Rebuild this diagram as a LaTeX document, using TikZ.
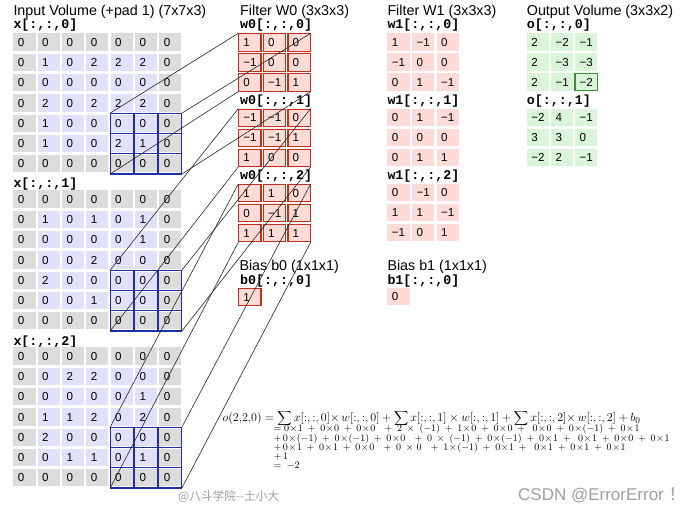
\documentclass[tikz,border=0pt]{standalone}
\usepackage{fontspec}
\newfontfamily\sansf{Liberation Sans}
\setmonofont{Liberation Mono}
\newfontfamily\cjkf{Noto Sans CJK SC}
\usetikzlibrary{calc}
\definecolor{padgray}{HTML}{DCDCDC}
\definecolor{inblue}{HTML}{E1E1FC}
\definecolor{hiblue}{HTML}{1E2FA8}
\definecolor{redfill}{HTML}{FDDCD8}
\definecolor{redline}{HTML}{C4301C}
\definecolor{greenfill}{HTML}{DBF5DB}
\definecolor{greenline}{HTML}{2F9A2F}
\definecolor{wmgray}{HTML}{A0A0A0}
\newcommand\tightlines{\lineskiplimit=-30pt\relax\lineskip=0pt\relax\medmuskip=8.6mu\relax}
\newcommand\tx{{\mskip1mu\times\mskip1mu}}

\newcommand\ingrid[2]{%
 \foreach \row [count=\r from 0] in {#2} {%
  \foreach \v [count=\c from 0] in \row {%
   \pgfmathtruncatemacro\pad{(\r==0)||(\r==6)||(\c==0)||(\c==6)}%
   \ifnum\pad=1 \def\cf{padgray}\else\def\cf{inblue}\fi
   \node[cell, fill=\cf] (x#1-\r-\c) at ({13.3+24.33*\c},{33.3+157*#1+20.3*\r}) {\v};
  }}%
 \foreach \r in {4,5,6}{\foreach \c in {4,5,6}{%
   \draw[hibox] ($(x#1-\r-\c.north west)+(-0.4,-1.4)$) rectangle ($(x#1-\r-\c.south east)+(0.4,1.6)$);}}%
 \node[blk, minimum width=71.7pt, minimum height=60.9pt] (xb#1) at (110.2,{113.1+157*#1}) {};
}
\newcommand\smgrid[6]{%
 \foreach \row [count=\r from 0] in {#6} {%
  \foreach \v [count=\c from 0] in \row {%
   \node[#5] (#1-\r-\c) at ({#2+#4*\c},{#3+20*\r}) {\v};
  }}}

\begin{document}
\begin{tikzpicture}[x=1pt,y=-1pt,
 cell/.style={anchor=north west, inner xsep=4.6pt, inner ysep=0pt, text width=13pt, align=left,
   minimum height=17.3pt, text height=8.3pt, text depth=0pt, outer sep=0pt,
   font=\sansf\fontsize{11.6}{12}\selectfont},
 wcell/.style={cell, fill=redfill, draw=redline, line width=1.1pt},
 vcell/.style={cell, fill=redfill},
 ocell/.style={cell, fill=greenfill},
 hibox/.style={draw=hiblue, line width=1.2pt},
 blk/.style={anchor=north west, inner sep=0pt, outer sep=0pt},
 ttl/.style={anchor=west, inner sep=0pt, font=\sansf\fontsize{14.3}{15}\selectfont},
 lbl/.style={anchor=west, inner sep=0pt, font=\ttfamily\bfseries\fontsize{13.3}{14}\selectfont},
 conn/.style={draw=black!85, line width=0.6pt},
]
\path[use as bounding box, fill=white] (0,0) rectangle (693,512);

% ---- titles ----
\node[ttl] (t-in) at (13.3,11.7) {Input Volume (+pad 1) (7x7x3)};
\node[ttl] (t-w0) at (240,11.7) {Filter W0 (3x3x3)};
\node[ttl] (t-w1) at (387.3,11.7) {Filter W1 (3x3x3)};
\node[ttl] (t-o) at (526.7,11.7) {Output Volume (3x3x2)};

% ---- input volume ----
\node[lbl] (l-x0) at (13.3,25.3) {x[:,:,0]};
\node[lbl] (l-x1) at (13.3,183.8) {x[:,:,1]};
\node[lbl] (l-x2) at (13.3,341.8) {x[:,:,2]};
\ingrid{0}{{0,0,0,0,0,0,0},{0,1,0,2,2,2,0},{0,0,0,0,0,0,0},{0,2,0,2,2,2,0},{0,1,0,0,0,0,0},{0,1,0,0,2,1,0},{0,0,0,0,0,0,0}}
\ingrid{1}{{0,0,0,0,0,0,0},{0,1,0,1,0,1,0},{0,0,0,0,0,1,0},{0,0,0,2,0,0,0},{0,2,0,0,0,0,0},{0,0,0,1,0,0,0},{0,0,0,0,0,0,0}}
\ingrid{2}{{0,0,0,0,0,0,0},{0,0,2,2,0,0,0},{0,0,0,0,0,1,0},{0,1,1,2,0,2,0},{0,2,0,0,0,0,0},{0,0,1,1,0,1,0},{0,0,0,0,0,0,0}}

% ---- filter W0 ----
\node[lbl] (l-w00) at (240,25.3) {w0[:,:,0]};
\node[lbl] (l-w01) at (240,100.8) {w0[:,:,1]};
\node[lbl] (l-w02) at (240,176.5) {w0[:,:,2]};
\smgrid{w0a}{238.8}{33.8}{24.6}{wcell}{{1,0,0},{−1,0,0},{0,−1,1}}
\smgrid{w0b}{238.8}{109.1}{24.6}{wcell}{{−1,−1,0},{−1,−1,1},{1,0,0}}
\smgrid{w0c}{238.8}{184.4}{24.6}{wcell}{{1,1,0},{0,−1,1},{1,1,1}}
\foreach \d in {0,1,2}{\node[blk, minimum width=72.4pt, minimum height=58.3pt] (wb\d) at (238.3,{33.3+75.3*\d}) {};}
\node[ttl] (t-b0) at (239.3,266.5) {Bias b0 (1x1x1)};
\node[lbl] (l-b0) at (240,281.5) {b0[:,:,0]};
\node[wcell] (b0) at (238.8,288.2) {1};

% ---- filter W1 ----
\node[lbl] (l-w10) at (387.3,25.3) {w1[:,:,0]};
\node[lbl] (l-w11) at (387.3,100.8) {w1[:,:,1]};
\node[lbl] (l-w12) at (387.3,176.5) {w1[:,:,2]};
\smgrid{w1a}{387.3}{33.3}{24.6}{vcell}{{1,−1,0},{−1,0,0},{0,1,−1}}
\smgrid{w1b}{387.3}{108.6}{24.6}{vcell}{{0,1,−1},{0,0,0},{0,1,1}}
\smgrid{w1c}{387.3}{183.9}{24.6}{vcell}{{0,−1,0},{1,1,−1},{−1,0,1}}
\node[ttl] (t-b1) at (387.3,266.5) {Bias b1 (1x1x1)};
\node[lbl] (l-b1) at (387.3,281.5) {b1[:,:,0]};
\node[vcell] (b1) at (387.3,287.7) {0};

% ---- output ----
\node[lbl] (l-o0) at (526.7,25.3) {o[:,:,0]};
\node[lbl] (l-o1) at (526.7,100.8) {o[:,:,1]};
\smgrid{oa}{526.7}{33.3}{24.2}{ocell}{{2,−2,−1},{2,−3,−3},{2,−1,−2}}
\smgrid{ob}{526.7}{108.6}{24.2}{ocell}{{−2,4,−1},{3,3,0},{−2,2,−1}}
\draw[greenline, line width=1.3pt] (oa-2-2.north west) rectangle (oa-2-2.south east);

% ---- connectors ----
\foreach \d in {0,1,2}{
  \draw[conn] (xb\d.north west) -- (wb\d.north west);
  \draw[conn] (xb\d.north east) -- (wb\d.north east);
  \draw[conn] (xb\d.south west) -- (wb\d.south west);
  \draw[conn] (xb\d.south east) -- (wb\d.south east);
}

% ---- formula ----
\node[anchor=base west, inner sep=0pt, text depth=0pt, text height=7pt, font=\fontsize{13}{13}\selectfont] (f1) at (222.5,421.5)
 {$o(2{,}2{,}0) = \displaystyle\sum x[{:},{:},0]{\times}\, w[{:},{:},0] + \sum x[{:},{:},1] \times w[{:},{:},1] + \sum x[{:},{:},2]{\times}\, w[{:},{:},2] + b_{0}$};
\node[anchor=north west, inner sep=0pt, align=left, font=\fontsize{10}{9.25}\selectfont\tightlines] (f2) at (273.3,424.1)
 {$= 0\tx1 + 0\tx0 + 0\tx0 \;\, + 2 \times (-1) + 1\tx0 + 0\tx0 + \; 0\tx0 + 0\tx(-1) + 0\tx1$\\
  $+\, 0\tx(-1) + 0\tx(-1) + 0\tx0 \;\, + 0 \times (-1) + 0\tx(-1) + 0\tx1 + \; 0\tx1 + 0\tx0 + 0\tx1$\\
  $+\, 0\tx1 + 0\tx1 + 0\tx0 \;\, + 0 \times\! 0 \;\, + 1\tx(-1) + 0\tx1 + \; 0\tx1 + 0\tx1 + 0\tx1$\\
  $+\, 1$\\
  $= \; -2$};

% ---- watermarks ----
\node[anchor=west, inner sep=0pt, text=wmgray, font=\cjkf\fontsize{11.7}{12}\selectfont] (wm1) at (178,497) {@八斗学院--土小大};
\node[anchor=west, inner sep=0pt, text=wmgray, font=\sansf\fontsize{17}{18}\selectfont] (wm2) at (518,495) {CSDN @ErrorError {\cjkf ！}};
\end{tikzpicture}
\end{document}
